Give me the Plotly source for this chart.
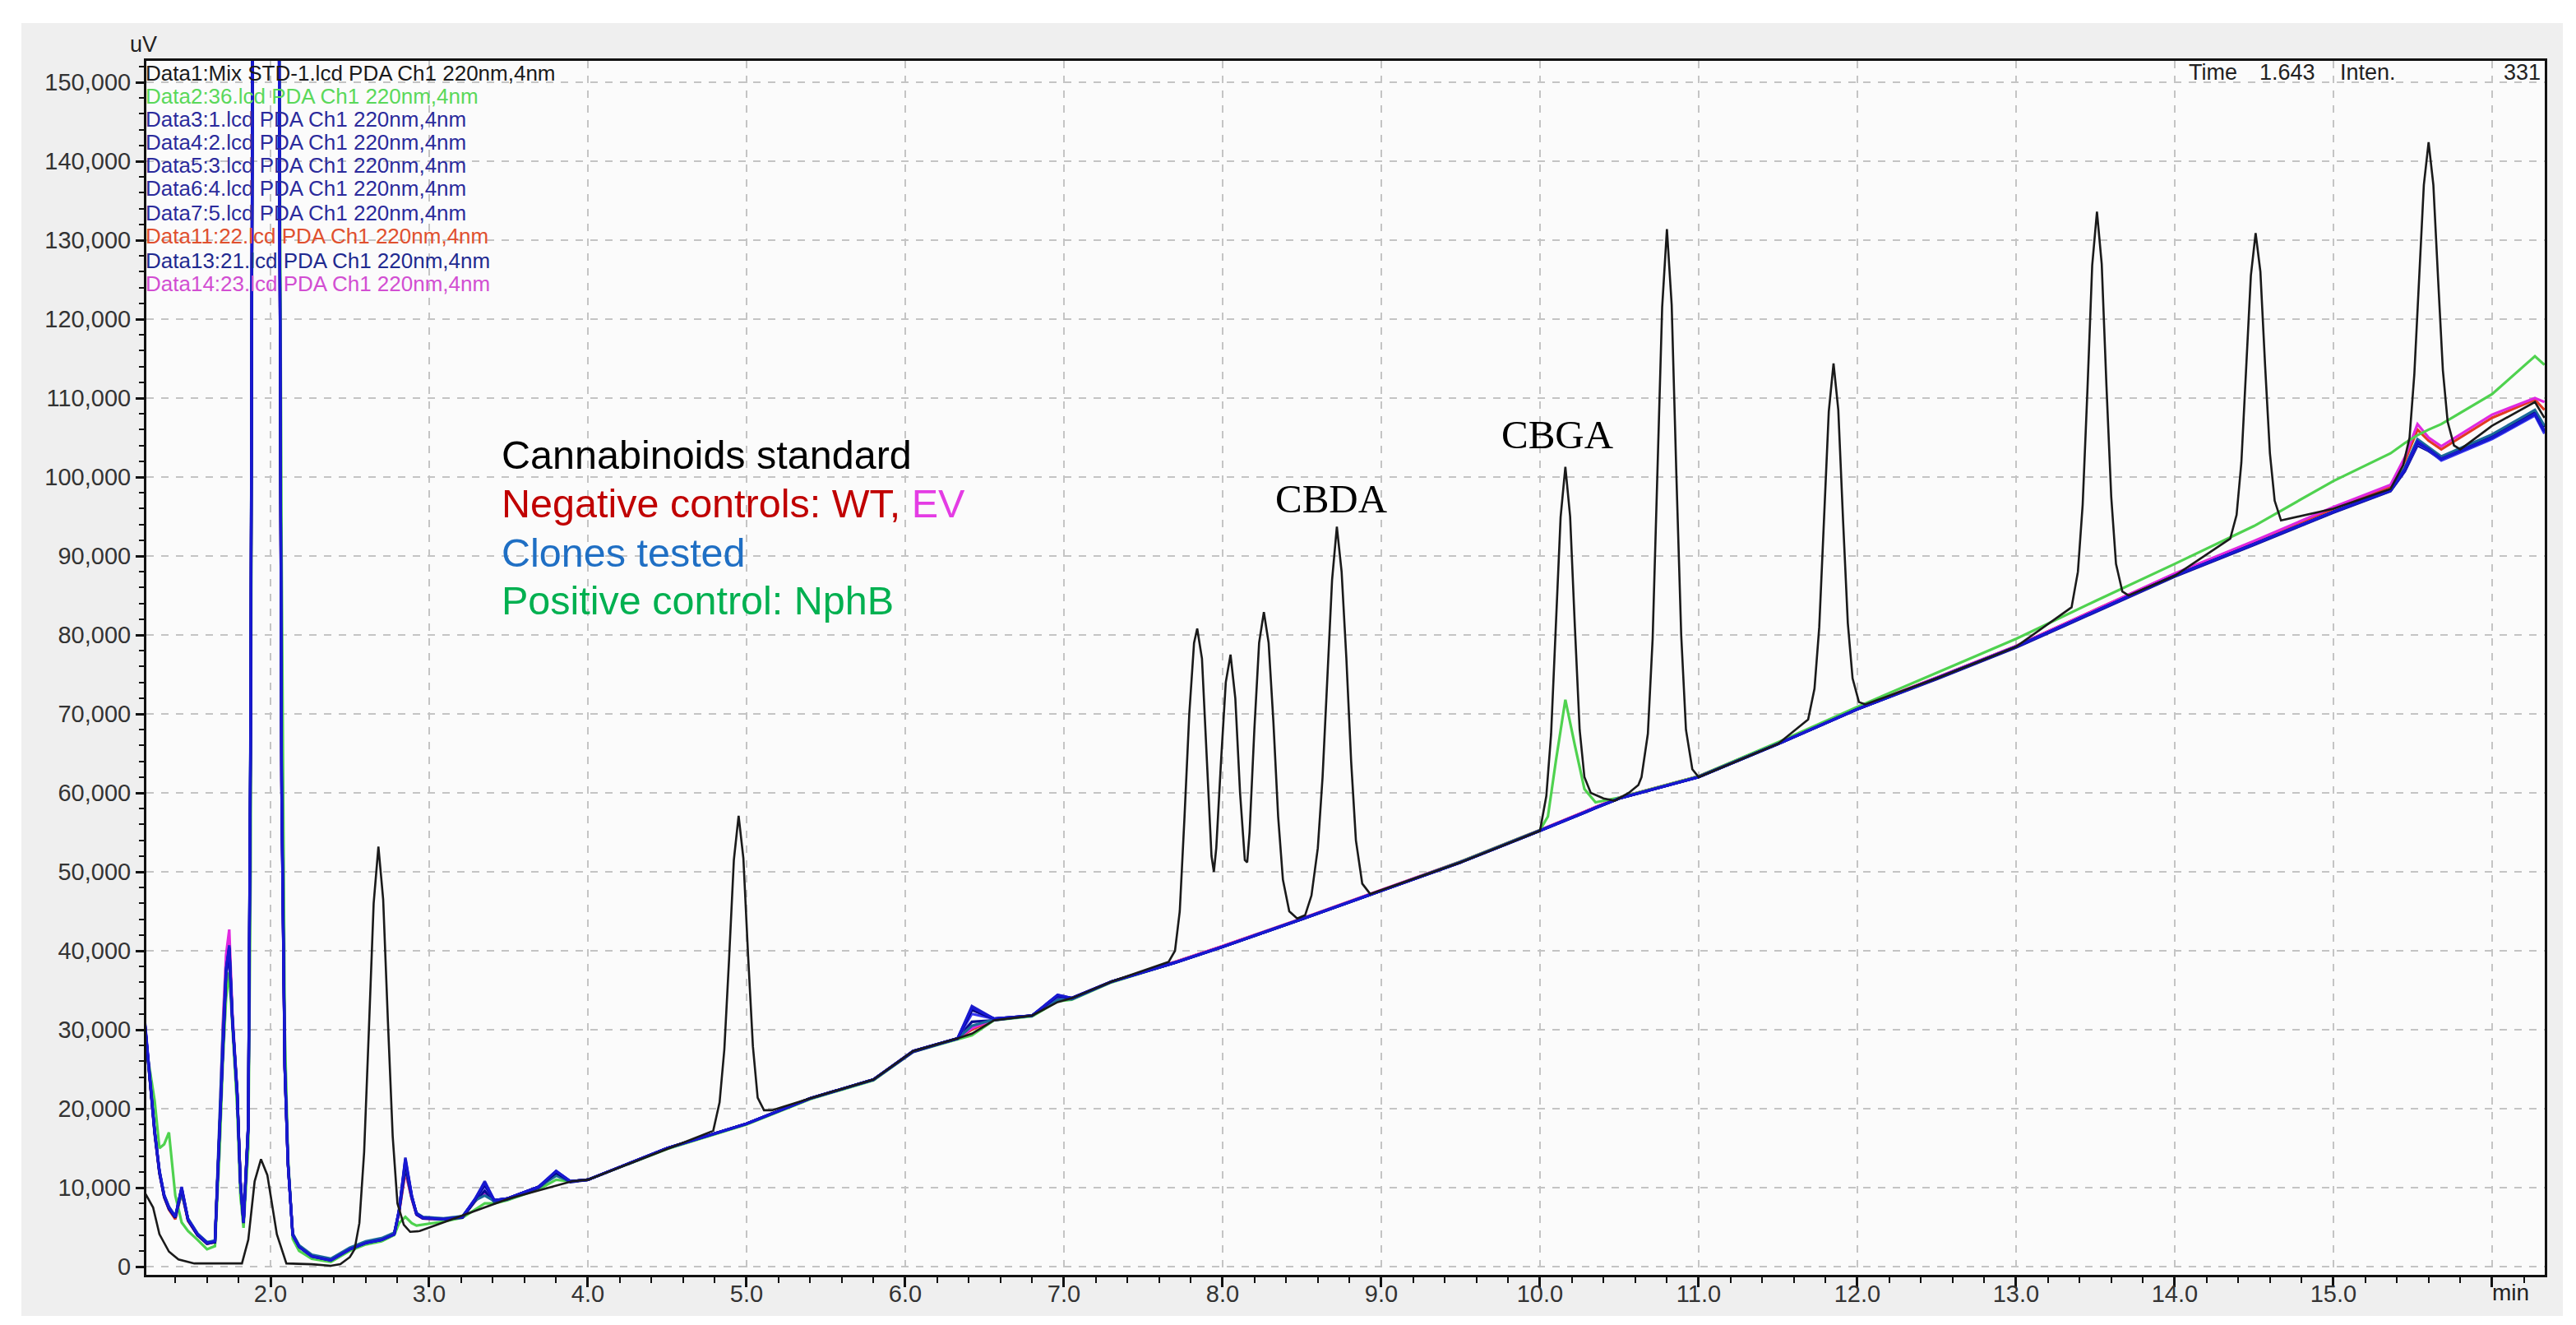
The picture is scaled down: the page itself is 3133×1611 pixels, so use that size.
import plotly.graph_objects as go

# ---------------- data ----------------
T_STD = [1.21, 1.26, 1.30, 1.36, 1.42, 1.52, 1.82, 1.86, 1.90, 1.94, 1.98, 2.04, 2.10, 2.26, 2.38,
         2.44, 2.50, 2.53, 2.56, 2.59, 2.62, 2.65, 2.68, 2.71, 2.74, 2.77, 2.80, 2.84, 2.88, 2.94,
         3.09, 3.50, 3.90, 4.00, 4.50, 4.79, 4.83, 4.86, 4.89, 4.92, 4.95, 4.98, 5.01, 5.04, 5.07,
         5.11, 5.16, 5.40, 5.80, 6.05, 6.33, 6.42, 6.56, 6.80, 6.96, 7.05, 7.30, 7.66,
         7.70, 7.73, 7.76, 7.79, 7.82, 7.84, 7.87, 7.90, 7.93, 7.945, 7.96, 7.99, 8.02, 8.05, 8.08,
         8.11, 8.14, 8.155, 8.17, 8.20, 8.23, 8.26, 8.29, 8.32, 8.35, 8.38, 8.42, 8.47, 8.52, 8.56,
         8.60, 8.63, 8.66, 8.69, 8.72, 8.75, 8.78, 8.81, 8.84, 8.88, 8.93, 9.50, 10.00,
         10.04, 10.07, 10.10, 10.13, 10.16, 10.19, 10.22, 10.25, 10.28, 10.32, 10.40, 10.47, 10.56, 10.62,
         10.64, 10.68, 10.71, 10.74, 10.77, 10.80, 10.83, 10.86, 10.89, 10.92, 10.96, 11.00, 11.50,
         11.69, 11.73, 11.76, 11.79, 11.82, 11.85, 11.88, 11.91, 11.94, 11.97, 12.01, 12.05, 12.50, 13.00,
         13.35, 13.39, 13.42, 13.45, 13.48, 13.51, 13.54, 13.57, 13.60, 13.63, 13.67, 13.71, 14.00,
         14.35, 14.39, 14.42, 14.45, 14.48, 14.51, 14.54, 14.57, 14.60, 14.63, 14.67, 15.00, 15.36,
         15.44, 15.48, 15.51, 15.54, 15.57, 15.60, 15.63, 15.66, 15.69, 15.72, 15.76, 15.80, 16.00,
         16.27, 16.33]
UV_STD = [9300, 7500, 4100, 1900, 900, 400, 400, 3400, 10800, 13600, 11600, 4100, 400, 300, 100,
          300, 1200, 2200, 5500, 14500, 30000, 46000, 53200, 46500, 31000, 16500, 8000, 5300, 4400, 4500,
          5600, 8600, 10800, 11000, 14900, 17200, 20800, 27500, 39000, 51500, 57100, 51700, 39300, 27900, 21400,
          19800, 19800, 21300, 23700, 27300, 28900, 29500, 31200, 31800, 33500, 34000, 36100, 38600,
          40000, 45000, 57000, 70000, 79000, 80800, 77000, 65000, 52000, 50000, 53000, 64000, 74000, 77500, 72000,
          60000, 51500, 51200, 55000, 68000, 79000, 82900, 79000, 69000, 57000, 49000, 45000, 44100, 44500, 47000,
          53000, 62000, 75000, 87000, 93700, 88000, 77000, 64000, 54000, 48500, 47200, 51200, 55200,
          59600, 67400, 80700, 94900, 101300, 95000, 81000, 68000, 62000, 60000, 59300, 59000, 60000, 61000,
          62000, 67500, 79500, 99500, 121500, 131400, 121800, 100000, 80000, 68000, 63000, 62000, 66200,
          69300, 73200, 81000, 94000, 108300, 114400, 108500, 94500, 81500, 74500, 71500, 71200, 74500, 78500,
          83500, 88000, 96500, 111000, 126800, 133600, 127000, 111500, 97500, 89000, 85500, 85000, 87500,
          92200, 95200, 101800, 113000, 125500, 130900, 126000, 114000, 103000, 97000, 94500, 96000, 98500,
          101500, 105000, 113000, 124500, 137000, 142400, 137000, 125000, 113500, 107000, 104000, 103500, 106500,
          109500, 107500]

T_SMP = [1.21, 1.24, 1.27, 1.30, 1.33, 1.36, 1.40, 1.44, 1.48, 1.54, 1.60, 1.65, 1.68, 1.70, 1.72,
         1.74, 1.76, 1.79, 1.81, 1.83, 1.86, 1.875, 1.89, 1.97, 2.05, 2.07, 2.09, 2.11, 2.14, 2.18,
         2.26, 2.38, 2.50, 2.60, 2.70, 2.78, 2.81, 2.85, 2.89, 2.92, 2.96, 3.09, 3.21, 3.29, 3.35,
         3.41, 3.49, 3.69, 3.80, 3.89, 4.00, 4.50, 5.00, 5.40, 5.80, 6.05, 6.33, 6.42, 6.56, 6.80,
         6.96, 7.05, 7.30, 7.70, 8.00, 8.50, 9.00, 9.50, 10.00, 10.05, 10.10, 10.16, 10.22, 10.28, 10.35,
         10.50, 11.00, 11.50, 12.00, 12.50, 13.00, 13.50, 14.00, 14.50, 15.00, 15.36, 15.45, 15.53, 15.60, 15.68,
         16.00, 16.27, 16.33]

UV_DATA2_NPHB = [28700, 25000, 21000, 15000, 15500, 17000, 9000, 5600, 4500, 3400, 2200, 2600, 15000, 26000, 34000,
                 37300, 30000, 20000, 9000, 4900, 15000, 50000, 180000, 180000, 180000, 90000, 30000, 14000, 3500, 2000,
                 1000, 600, 2000, 2800, 3200, 4000, 5500, 6300, 5500, 5200, 5300, 5700, 6200, 7200, 8000,
                 8000, 8400, 9800, 11000, 10800, 11000, 14900, 18000, 21200, 23600, 27200, 28800, 29300, 31200, 31700,
                 33600, 33800, 36000, 38500, 40500, 44000, 47600, 51300, 55300, 57000, 64000, 71800, 66000, 60500, 58800,
                 59400, 62100, 66400, 70900, 75200, 79500, 84300, 89000, 93800, 99500, 103000, 104300, 105300, 106000, 106700,
                 110500, 115300, 114200]
UV_DATA3 = [30600, 24000, 17000, 12000, 9000, 7500, 6300, 10100, 6000, 4100, 3000, 3200, 18000, 29500, 37500,
            40700, 31300, 22000, 10800, 5600, 18000, 70000, 180000, 180000, 180000, 60000, 25000, 13000, 4000, 2500,
            1300, 800, 2200, 3000, 3400, 4100, 7100, 13800, 9000, 6700, 6200, 6000, 6300, 8600, 10800,
            8400, 8600, 10100, 12100, 10800, 11000, 15000, 18100, 21300, 23700, 27300, 28900, 33000, 31400, 31800,
            34400, 34000, 36100, 38500, 40500, 44000, 47600, 51200, 55200, 55600, 56000, 56500, 57000, 57500, 58100,
            59300, 62000, 66200, 70600, 74500, 78500, 83000, 87500, 91500, 95600, 98300, 101000, 104500, 103500, 102300,
            105000, 108000, 105800]
UV_DATA4 = [30200, 23500, 16800, 11800, 8800, 7300, 6200, 9600, 5900, 4000, 2900, 3100, 17500, 29000, 37000,
            39500, 31000, 21800, 10600, 5500, 17500, 65000, 180000, 180000, 180000, 62000, 25500, 13200, 4100, 2600,
            1400, 900, 2300, 3100, 3500, 4200, 6900, 12500, 8700, 6600, 6100, 6000, 6200, 8300, 9600,
            8200, 8500, 10000, 11700, 10700, 11000, 15000, 18100, 21300, 23700, 27200, 28900, 31000, 31200, 31800,
            34000, 33900, 36100, 38500, 40500, 44000, 47600, 51200, 55200, 55600, 56000, 56500, 57000, 57500, 58100,
            59300, 62000, 66200, 70600, 74400, 78400, 82900, 87400, 91400, 95500, 98200, 100700, 104000, 103300, 102200,
            105200, 108300, 106300]
UV_DATA5 = [30000, 23800, 17200, 12200, 9100, 7600, 6400, 9300, 6100, 4200, 3100, 3300, 18500, 30000, 37800,
            40200, 31600, 22300, 11000, 5700, 18300, 72000, 180000, 180000, 180000, 64000, 26000, 13400, 4200, 2700,
            1500, 1000, 2400, 3200, 3600, 4300, 7000, 13000, 8800, 6800, 6300, 6100, 6400, 8400, 9000,
            8300, 8600, 10100, 11500, 10800, 11000, 15000, 18100, 21300, 23700, 27300, 28900, 30500, 31300, 31800,
            33800, 33900, 36100, 38500, 40500, 44000, 47600, 51200, 55200, 55600, 56000, 56500, 57000, 57500, 58100,
            59300, 62000, 66200, 70600, 74500, 78500, 83000, 87500, 91500, 95600, 98300, 101200, 104800, 103800, 102600,
            105400, 108500, 106500]
UV_DATA6 = [30800, 24200, 17300, 12100, 9000, 7400, 6300, 9800, 6000, 4100, 3000, 3200, 17800, 29200, 37200,
            40000, 31100, 21900, 10700, 5600, 17800, 68000, 180000, 180000, 180000, 61000, 25200, 13100, 4000, 2500,
            1300, 800, 2200, 3000, 3400, 4100, 7200, 13400, 8900, 6700, 6200, 6000, 6300, 8500, 10200,
            8400, 8600, 10100, 12000, 10800, 11000, 15000, 18100, 21300, 23700, 27300, 28900, 32000, 31400, 31800,
            34200, 34000, 36100, 38500, 40500, 44000, 47600, 51200, 55200, 55600, 56000, 56500, 57000, 57500, 58100,
            59300, 62000, 66200, 70600, 74500, 78500, 83000, 87500, 91500, 95600, 98300, 100800, 104200, 103400, 102100,
            104800, 107800, 105500]
UV_DATA7 = [30400, 23900, 17100, 12000, 8900, 7400, 6200, 9900, 5900, 4000, 3000, 3100, 17900, 29300, 37300,
            40300, 31200, 22000, 10800, 5600, 17900, 69000, 180000, 180000, 180000, 60500, 25100, 13000, 4000, 2500,
            1300, 800, 2200, 3000, 3400, 4100, 7000, 13200, 8900, 6700, 6200, 6000, 6300, 8500, 10400,
            8400, 8600, 10100, 11900, 10800, 11000, 15000, 18100, 21300, 23700, 27300, 28900, 32500, 31400, 31800,
            34300, 34000, 36100, 38500, 40500, 44000, 47600, 51200, 55200, 55600, 56000, 56500, 57000, 57500, 58100,
            59300, 62000, 66200, 70600, 74500, 78500, 83000, 87500, 91500, 95600, 98300, 100900, 104400, 103500, 102300,
            105000, 108000, 105800]
UV_DATA11_WT = [30300, 23700, 16900, 11900, 8800, 7200, 6000, 9400, 5800, 4000, 2900, 3100, 17600, 29100, 37600,
                41000, 31400, 22100, 10900, 5700, 18100, 67000, 180000, 180000, 180000, 61000, 25300, 13100, 4100, 2600,
                1400, 900, 2300, 3100, 3500, 4200, 6800, 12000, 8600, 6600, 6100, 6000, 6300, 8300, 9500,
                8300, 8600, 10100, 11600, 10800, 11000, 15000, 18100, 21300, 23700, 27300, 28900, 30000, 31300, 31800,
                34000, 34000, 36100, 38600, 40600, 44100, 47700, 51300, 55300, 55700, 56100, 56600, 57100, 57600, 58200,
                59400, 62100, 66300, 70700, 74600, 78600, 83200, 87700, 91800, 96000, 98800, 102000, 106000, 104600, 103500,
                107500, 109800, 108500]
UV_DATA13 = [30500, 24100, 17100, 12100, 9000, 7500, 6300, 10000, 6000, 4100, 3000, 3200, 18100, 29600, 37600,
             40500, 31300, 22000, 10800, 5600, 18000, 70000, 180000, 180000, 180000, 60000, 25000, 13000, 4000, 2500,
             1300, 800, 2200, 3000, 3400, 4100, 7100, 13600, 9000, 6700, 6200, 6000, 6300, 8600, 10600,
             8400, 8600, 10100, 12100, 10800, 11000, 15000, 18100, 21300, 23700, 27300, 28900, 32800, 31400, 31800,
             34400, 34000, 36100, 38500, 40500, 44000, 47600, 51200, 55200, 55600, 56000, 56500, 57000, 57500, 58100,
             59300, 62000, 66200, 70600, 74500, 78500, 83000, 87500, 91500, 95600, 98300, 101000, 104500, 103500, 102300,
             105000, 108000, 105800]
UV_DATA14_EV = [30400, 23800, 17000, 12000, 8900, 7400, 6200, 9700, 5900, 4000, 3000, 3100, 18500, 31000, 39500,
                42700, 32000, 22300, 11000, 5700, 18000, 66000, 180000, 180000, 180000, 61500, 25400, 13200, 4100, 2600,
                1400, 900, 2300, 3100, 3500, 4200, 6900, 12300, 8600, 6600, 6100, 6000, 6300, 8400, 9300,
                8300, 8600, 10100, 11700, 10800, 11000, 15000, 18100, 21300, 23700, 27300, 28900, 30200, 31300, 31800,
                34100, 34000, 36100, 38600, 40600, 44100, 47700, 51300, 55300, 55700, 56100, 56600, 57100, 57600, 58200,
                59400, 62100, 66300, 70700, 74600, 78600, 83200, 87800, 91900, 96200, 99000, 102500, 106700, 105000, 103900,
                107900, 110000, 109500]

SERIES_NAMES = ["Data2:36.lcd PDA Ch1 220nm,4nm", "Data3:1.lcd PDA Ch1 220nm,4nm", "Data4:2.lcd PDA Ch1 220nm,4nm",
                "Data5:3.lcd PDA Ch1 220nm,4nm", "Data6:4.lcd PDA Ch1 220nm,4nm", "Data7:5.lcd PDA Ch1 220nm,4nm",
                "Data11:22.lcd PDA Ch1 220nm,4nm", "Data13:21.lcd PDA Ch1 220nm,4nm", "Data14:23.lcd PDA Ch1 220nm,4nm"]
STD_NAME = "Data1:Mix STD-1.lcd PDA Ch1 220nm,4nm"

Y_TICKS = list(range(0, 150001, 10000))
Y_TICK_TEXT = [f"{v:,}" for v in Y_TICKS]
X_TICKS = [2.0, 3.0, 4.0, 5.0, 6.0, 7.0, 8.0, 9.0, 10.0, 11.0, 12.0, 13.0, 14.0, 15.0, 16.0]
X_TICK_TEXT = ["2.0", "3.0", "4.0", "5.0", "6.0", "7.0", "8.0", "9.0", "10.0", "11.0", "12.0", "13.0",
               "14.0", "15.0", ""]

# ---------------- styles ----------------
SANS = "Liberation Sans, Arial, sans-serif"
SERIF = "Liberation Serif, Times New Roman, serif"

smp_values = [UV_DATA2_NPHB, UV_DATA3, UV_DATA4, UV_DATA5, UV_DATA6, UV_DATA7, UV_DATA11_WT, UV_DATA13, UV_DATA14_EV]
smp_colors = ["#4fd24f", "#2323c8", "#0b0b92", "#1a6a9a", "#3535f0", "#00007e", "#e23a22", "#1818d2", "#e028e0"]
head_colors = ["#5ad85a", "#2b2b9c", "#2b2b9c", "#2b2b9c", "#2b2b9c", "#2b2b9c", "#e0502e", "#1f2a90", "#d24ed2"]

fig = go.Figure()
order = [6, 8, 0, 1, 2, 3, 4, 5, 7]
for i in order:
    fig.add_trace(go.Scatter(x=T_SMP, y=smp_values[i], mode="lines", name=SERIES_NAMES[i],
                             line=dict(color=smp_colors[i], width=3.2)))
fig.add_trace(go.Scatter(x=T_STD, y=UV_STD, mode="lines", name=STD_NAME,
                         line=dict(color="#1a1a1a", width=2.6)))

W, H = 3133, 1611
L, R, T, B = 170, 46, 66, 69
pw, ph = W - L - R, H - T - B


def px(xf):
    return (xf - L) / pw


def py(yf):
    return (H - B - yf) / ph


shapes = [
    dict(type="rect", xref="paper", yref="paper", x0=px(18), x1=px(3109), y0=py(1592), y1=py(20),
         fillcolor="#efefef", line=dict(width=0), layer="below"),
    dict(type="rect", xref="paper", yref="paper", x0=0, x1=1, y0=0, y1=1,
         fillcolor="#fbfbfb", line=dict(width=0), layer="below"),
]

annotations = []
head_names = [STD_NAME] + SERIES_NAMES
head_cols = ["#1a1a1a"] + head_colors
head_y = [81, 109, 137, 165, 193, 221, 251, 279, 309, 337]
for name, col, yy in zip(head_names, head_cols, head_y):
    annotations.append(dict(xref="paper", yref="paper", x=px(167), y=py(yy), xanchor="left", yanchor="middle",
                            text=name, showarrow=False, font=dict(family=SANS, size=26, color=col)))
for txt, xx, anc in [("Time", 2652, "left"), ("1.643", 2810, "right"), ("Inten.", 2836, "left"), ("331", 3084, "right")]:
    annotations.append(dict(xref="paper", yref="paper", x=px(xx), y=py(80), xanchor=anc, yanchor="middle",
                            text=txt, showarrow=False, font=dict(family=SANS, size=27, color="#222222")))
annotations.append(dict(xref="paper", yref="paper", x=px(166), y=py(46), xanchor="center", yanchor="middle",
                        text="uV", showarrow=False, font=dict(family=SANS, size=27, color="#222222")))
annotations.append(dict(xref="paper", yref="paper", x=px(3070), y=py(1564), xanchor="right", yanchor="middle",
                        text="min", showarrow=False, font=dict(family=SANS, size=28, color="#222222")))
key = [("Cannabinoids standard", "#000000", 545),
       ("Negative controls: WT, <span style='color:#e43ce4'>EV</span>", "#c00000", 604),
       ("Clones tested", "#1f6fc4", 664),
       ("Positive control: NphB", "#00b050", 722)]
for txt, col, yy in key:
    annotations.append(dict(xref="paper", yref="paper", x=px(600), y=py(yy), xanchor="left", yanchor="middle",
                            text=txt, showarrow=False, font=dict(family=SANS, size=48.5, color=col)))
annotations.append(dict(xref="paper", yref="paper", x=px(1611), y=py(598), xanchor="center", yanchor="middle",
                        text="CBDA", showarrow=False, font=dict(family=SERIF, size=49, color="#000000")))
annotations.append(dict(xref="paper", yref="paper", x=px(1886), y=py(520), xanchor="center", yanchor="middle",
                        text="CBGA", showarrow=False, font=dict(family=SERIF, size=49, color="#000000")))

grid_kw = dict(showgrid=True, gridcolor="#c4c4c4", gridwidth=2, griddash="9px,9px")

fig.update_layout(
    width=W, height=H,
    margin=dict(l=L, r=R, t=T, b=B, pad=0),
    paper_bgcolor="#ffffff", plot_bgcolor="#fbfbfb",
    showlegend=False,
    shapes=shapes, annotations=annotations,
    xaxis=dict(range=[1.2176, 16.332], tickmode="array", tickvals=X_TICKS, ticktext=X_TICK_TEXT,
               ticks="outside", ticklen=12, tickwidth=3, tickcolor="#111111", ticklabelstandoff=-17,
               minor=dict(tickmode="linear", tick0=0, dtick=0.2, ticks="outside", ticklen=7, tickwidth=2,
                          tickcolor="#111111", showgrid=False),
               showline=True, linecolor="#111111", linewidth=3, mirror=True, zeroline=False,
               tickfont=dict(family=SANS, size=29, color="#333333"), **grid_kw),
    yaxis=dict(range=[-1042, 152708], tickmode="array", tickvals=Y_TICKS, ticktext=Y_TICK_TEXT,
               ticks="outside", ticklen=10, tickwidth=3, tickcolor="#111111",
               minor=dict(tickmode="linear", tick0=0, dtick=2000, ticks="outside", ticklen=6, tickwidth=2,
                          tickcolor="#111111", showgrid=False),
               showline=True, linecolor="#111111", linewidth=3, mirror=True, zeroline=False,
               tickfont=dict(family=SANS, size=29, color="#333333"), **grid_kw),
)

fig.write_html("out.html")
